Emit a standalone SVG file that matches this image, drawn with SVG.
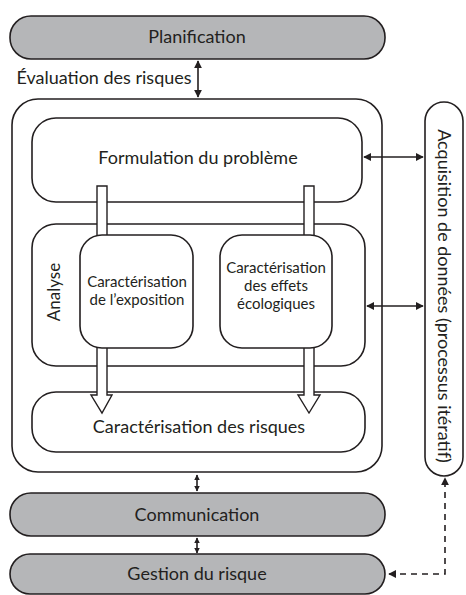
<svg xmlns="http://www.w3.org/2000/svg" width="466" height="595" viewBox="0 0 466 595">
<style>
.box{fill:#fff;stroke:#231f20;stroke-width:1.6}
.gray{fill:#b5b6b8;stroke:#231f20;stroke-width:1.6}
.t{font-family:Lato,"Open Sans","Liberation Sans",sans-serif;font-size:18px;fill:#231f20;text-anchor:middle}
.s{font-size:15px}
.ln{stroke:#231f20;stroke-width:1.6;fill:none}
.hollow{fill:#fff;stroke:#231f20;stroke-width:1.4}
</style>
<defs>
<marker id="ah" viewBox="0 0 10 10" refX="9" refY="5" markerWidth="5" markerHeight="5" orient="auto-start-reverse"><path d="M0,0 L10,5 L0,10 z" fill="#231f20"/></marker>
<marker id="ahs" viewBox="0 0 10 10" refX="9" refY="5" markerWidth="3.5" markerHeight="3.5" orient="auto-start-reverse"><path d="M0,0 L10,5 L0,10 z" fill="#231f20"/></marker>
</defs>
<g id="planification"><rect class="gray" x="10" y="16" width="375" height="43" rx="21"/><text class="t" x="197" y="43">Planification</text></g>
<g id="evaluation"><rect class="box" x="12" y="99" width="370" height="373" rx="26"/><text class="t" x="104" y="84">Évaluation des risques</text></g>
<g id="formulation"><rect class="box" x="32" y="118" width="330" height="84" rx="24"/><text class="t" x="198" y="164">Formulation du problème</text></g>
<g id="analyse"><rect class="box" x="32" y="224" width="333" height="142" rx="24"/><text class="t" style="font-size:17px" transform="translate(60,292) rotate(-90)">Analyse</text></g>
<g id="risques"><rect class="box" x="32" y="392" width="333" height="60" rx="24"/><text class="t" x="199" y="433">Caractérisation des risques</text></g>
<g id="connectors">
<path class="hollow" d="M97,186 H107 V395 H112 L102,413 L91,395 H97 Z"/>
<path class="hollow" d="M304,186 H314 V395 H320 L309,413 L298,395 H304 Z"/>
<line class="ln" x1="198" y1="61" x2="198" y2="97" marker-start="url(#ah)" marker-end="url(#ah)"/>
<line class="ln" x1="364" y1="157" x2="423" y2="157" marker-start="url(#ah)" marker-end="url(#ah)"/>
<line class="ln" x1="367" y1="306" x2="423" y2="306" marker-start="url(#ah)" marker-end="url(#ah)"/>
<line class="ln" x1="197" y1="475" x2="197" y2="491" stroke-width="1.2" marker-start="url(#ahs)" marker-end="url(#ahs)"/>
<line class="ln" x1="197" y1="538" x2="197" y2="553" stroke-width="1.2" marker-start="url(#ahs)" marker-end="url(#ahs)"/>
<path class="ln" d="M389,574 H445 V478" stroke-dasharray="6,5" marker-start="url(#ah)" marker-end="url(#ah)"/>
</g>
<g id="exposition"><rect class="box" x="80" y="235" width="113" height="113" rx="22"/><text class="t s" x="137" y="287">Caractérisation</text><text class="t s" x="137" y="305">de l’exposition</text></g>
<g id="effets"><rect class="box" x="220" y="235" width="112" height="113" rx="22"/><text class="t s" x="276" y="273">Caractérisation</text><text class="t s" x="276" y="291">des effets</text><text class="t s" x="276" y="309">écologiques</text></g>
<g id="acquisition"><rect class="box" x="425" y="102" width="38" height="374" rx="19"/><text class="t" transform="translate(438,296) rotate(90)">Acquisition de données (processus itératif)</text></g>
<g id="communication"><rect class="gray" x="10" y="493" width="375" height="43" rx="21"/><text class="t" x="197" y="521">Communication</text></g>
<g id="gestion"><rect class="gray" x="10" y="554" width="375" height="40" rx="20"/><text class="t" x="197" y="580">Gestion du risque</text></g>
</svg>
